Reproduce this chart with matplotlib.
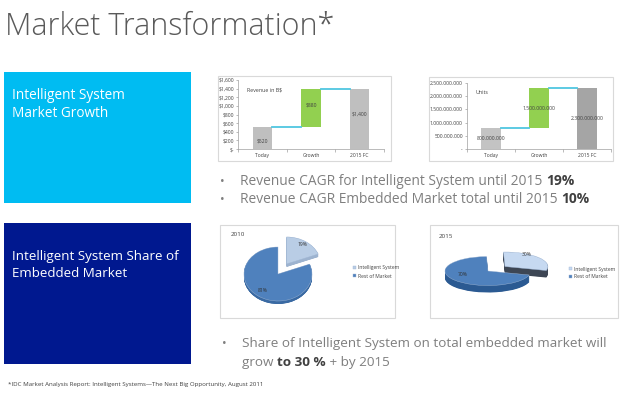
import matplotlib
matplotlib.use("Agg")
import matplotlib.pyplot as plt
from matplotlib.patches import Rectangle
import numpy as np

W, H = 640, 393

# ---- data ----
rev_categories = ["Today", "Growth", "2015 FC"]
rev_values = [520, 880, 1400]          # B$ (waterfall: start, growth, end)
rev_labels = ["$520", "$880", "$1,400"]
rev_ticks = [0, 200, 400, 600, 800, 1000, 1200, 1400, 1600]
rev_ticklabels = ["$-", "$200", "$400", "$600", "$800", "$1,000", "$1,200", "$1,400", "$1,600"]

unit_categories = ["Today", "Growth", "2015 FC"]
unit_values = [800e6, 1500e6, 2300e6]
unit_labels = ["800.000.000", "1.500.000.000", "2.300.000.000"]
unit_ticks = [0, 500e6, 1000e6, 1500e6, 2000e6, 2500e6]
unit_ticklabels = ["-", "500.000.000", "1.000.000.000", "1.500.000.000", "2.000.000.000", "2.500.000.000"]

pie_labels = ["Intelligent System", "Rest of Market"]
share_2010 = [19, 81]
share_2015 = [30, 70]

plt.rcParams['font.family'] = ['Open Sans', 'DejaVu Sans']

fig = plt.figure(figsize=(W / 100, H / 100), dpi=100)
fig.patch.set_facecolor("white")


def P(x, y):
    return (x / W, 1 - y / H)


def add_axes_px(x0, y0, x1, y1, **kw):
    return fig.add_axes([x0 / W, 1 - y1 / H, (x1 - x0) / W, (y1 - y0) / H], **kw)


def frame_px(x0, y0, x1, y1, ec="#d9d9d9"):
    fig.patches.append(Rectangle(P(x0, y1), (x1 - x0) / W, (y1 - y0) / H,
                                 transform=fig.transFigure, fill=False,
                                 ec=ec, lw=0.8))


# ---- title ----
fig.text(*P(5, 35), "Market Transformation*", fontsize=22, color="#5a5a5a",
         fontweight="light", va="baseline", ha="left")

# ---- coloured boxes ----
fig.patches.append(Rectangle(P(4, 203), 187 / W, 131 / H, transform=fig.transFigure,
                             fc="#00BCF2", ec="none"))
fig.patches.append(Rectangle(P(4, 364), 187 / W, 141 / H, transform=fig.transFigure,
                             fc="#00188F", ec="none"))
fig.text(*P(12, 99), "Intelligent System", fontsize=9.8, color="white", va="baseline")
fig.text(*P(12, 117), "Market Growth", fontsize=9.8, color="white", va="baseline")
fig.text(*P(12, 260), "Intelligent System Share of", fontsize=9.6, color="white", va="baseline")
fig.text(*P(12, 277), "Embedded Market", fontsize=9.6, color="white", va="baseline")

# ---- chart frames ----
frame_px(218, 76, 391, 161)
frame_px(429, 77, 613, 161)
frame_px(220, 225, 395, 318)
frame_px(430, 225, 618, 318)

GRAY = "#bfbfbf"
GREEN = "#92d050"
CYAN = "#4fc6e0"


def waterfall(ax, vals, labels, ticks, ticklabels, cats, colors, title, label_y):
    start, growth, end = vals
    x = np.arange(3)
    bw = 0.4
    ax.bar(x[0], start, width=bw, color=colors[0], zorder=2)
    ax.bar(x[1], growth, bottom=start, width=bw, color=colors[1], zorder=2)
    ax.bar(x[2], end, width=bw, color=colors[2], zorder=2)
    ax.plot([x[0] + bw / 2, x[1] - bw / 2], [start, start], color=CYAN, lw=1.3, zorder=3)
    ax.plot([x[1] + bw / 2, x[2] - bw / 2], [start + growth, start + growth], color=CYAN, lw=1.3, zorder=3)
    for i, (lab, yy) in enumerate(zip(labels, label_y)):
        ax.text(x[i], yy, lab, ha="center", va="center", fontsize=3.6, color="#404040", zorder=4)
    ax.set_xlim(-0.5, 2.5)
    ax.set_ylim(ticks[0], ticks[-1])
    ax.set_yticks(ticks)
    ax.set_yticklabels(ticklabels)
    ax.set_xticks(x)
    ax.set_xticklabels(cats)
    ax.set_xticks([-0.5, 0.5, 1.5, 2.5], minor=True)
    ax.tick_params(axis="x", which="major", length=0, labelsize=3.6, pad=3, labelcolor="#404040")
    ax.tick_params(axis="x", which="minor", length=2, color="#a0a0a0", width=0.5)
    ax.tick_params(axis="y", length=1.5, labelsize=3.6, pad=1.5, color="#a0a0a0", width=0.5, labelcolor="#404040")
    for s in ["top", "right"]:
        ax.spines[s].set_visible(False)
    for s in ["left", "bottom"]:
        ax.spines[s].set_color("#a0a0a0")
        ax.spines[s].set_linewidth(0.5)
    ax.patch.set_alpha(0)
    ax.text(0.06, 0.86, title, transform=ax.transAxes, fontsize=3.8, color="#404040", va="center")


ax1 = add_axes_px(238, 80, 384, 149)
waterfall(ax1, rev_values, rev_labels, rev_ticks, rev_ticklabels, rev_categories,
          [GRAY, GREEN, GRAY], "Revenue in B$",
          [rev_values[0] / 2 - 80, rev_values[0] + rev_values[1] / 2 + 70, rev_values[2] / 2 + 120])

ax2 = add_axes_px(467, 83, 611, 149)
waterfall(ax2, unit_values, unit_labels, unit_ticks, unit_ticklabels, unit_categories,
          ["#c3c3c3", GREEN, "#a5a5a5"], "Units",
          [unit_values[0] / 2, unit_values[0] + unit_values[1] / 2, unit_values[2] / 2])


def pie3d(cx, cy, rx, ry, thick, shares, top_cols, side_cols, explode, start,
          pct_pos, year, year_pos, leg_pos):
    a = 1.8
    ax = add_axes_px(cx - a * rx, cy - a * ry, cx + a * rx, cy + a * ry)
    ex = [explode, 0]
    n = 14
    t = thick / ry
    for k in range(n, 0, -1):
        off = -t * k / n
        ax.pie(shares, colors=side_cols, startangle=start, counterclock=False, explode=ex,
               center=(0, off), radius=1, wedgeprops=dict(lw=0))
    wedges, _ = ax.pie(shares, colors=top_cols, startangle=start, counterclock=False, explode=ex,
                       center=(0, 0), radius=1, wedgeprops=dict(lw=0.3, ec="#9fb6d4"))
    ax.set_aspect("auto")
    ax.set_xlim(-a, a)
    ax.set_ylim(-a, a)
    ax.axis("off")
    for w in ax.patches:
        w.set_clip_on(False)
    for s, (px, py) in zip(shares, pct_pos):
        fig.text(*P(px, py), f"{s}%", fontsize=3.6, color="#303030", ha="center", va="center")
    fig.text(*P(*year_pos), year, fontsize=4.5, color="#404040", va="center")
    fig.legend(wedges, pie_labels, loc="upper left", bbox_to_anchor=P(*leg_pos),
               frameon=False, fontsize=3.6, handlelength=0.6, handleheight=0.6,
               handletextpad=0.4, labelspacing=0.6, borderpad=0, labelcolor="#404040")


pie3d(278, 274, 34, 27, 3, share_2010, ["#b9cde5", "#4f81bd"], ["#9db3cf", "#3a6aa3"],
      0.45, 90, [(302, 245), (263, 291)], "2010", (231, 235), (350, 263))
pie3d(488, 271, 43, 14.5, 7, share_2015, ["#c6d9f1", "#4f81bd"], ["#3d4654", "#2b5a92"],
      0.5, 92, [(527, 254), (463, 274)], "2015", (439, 236), (566, 264))

# ---- bullets ----
def rich_line(x, y, parts, fontsize=10):
    r = fig.canvas.get_renderer()
    cx = x
    for txt, bold in parts:
        t = fig.text(cx / W, 1 - y / H, txt, fontsize=fontsize, va="baseline", ha="left",
                     color="#404040" if bold else "#7f7f7f",
                     fontweight="bold" if bold else "normal")
        bb = t.get_window_extent(renderer=r)
        cx += bb.width


GREY = "#7f7f7f"
for yy, parts in [(185, [("Revenue CAGR for Intelligent System until 2015 ", False), ("19%", True)]),
                  (203, [("Revenue CAGR Embedded Market total until 2015 ", False), ("10%", True)])]:
    fig.text(*P(220, yy), "•", fontsize=9, color=GREY, va="baseline")
    rich_line(240, yy, parts, fontsize=9.9)

fig.text(*P(222, 347), "•", fontsize=9, color=GREY, va="baseline")
rich_line(242, 347, [("Share of Intelligent System on total embedded market will", False)], fontsize=9.7)
rich_line(242, 366, [("grow ", False), ("to 30 %", True), (" + by 2015", False)], fontsize=9.7)

fig.text(*P(8, 386), "*IDC Market Analysis Report: Intelligent Systems\u2014The Next Big Opportunity, August 2011",
         fontsize=4.4, color="#404040", va="baseline")

fig.savefig("out.png", dpi=100)
